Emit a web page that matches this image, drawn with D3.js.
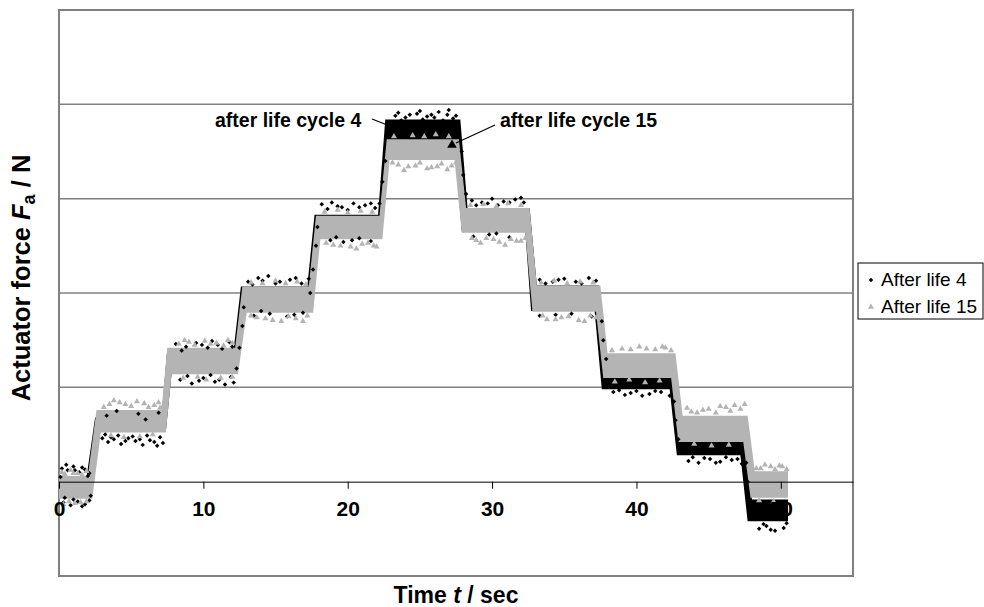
<!DOCTYPE html>
<meta charset="utf-8">
<style>
  body { margin: 0; background: #fff; }
  text { font-family: "Liberation Sans", Arial, sans-serif; }
</style>
<body>
<script src="https://d3js.org/d3.v7.min.js"></script>
<script>
// chart size
let width = 984;
let height = 607;

// x ticks (sec) and y gridlines (force)
let xTicks = [0, 10, 20, 30, 40, 50];
let yGrid = [100, 200, 300, 400];

// dense band of each run, upper and lower edge as [t, F]
let life4Upper = [[0,4],[1.9,4],[2.5,68],[7.1,68],[7.5,140],[12.1,140],[12.6,207],[17.2,207],[17.7,283],[22.1,283],[22.6,384],[27.8,384],[28.3,290],[32.6,290],[33.1,208],[37.4,208],[37.9,124],[42.6,124],[43.1,47],[47.6,47],[48.0,-19],[50.5,-19]];
let life4Lower = [[0,-16],[2.2,-16],[2.8,53],[7.4,53],[7.8,115],[12.3,115],[12.9,180],[17.5,180],[18.0,258],[22.3,258],[22.8,361],[27.4,361],[27.9,265],[32.3,265],[32.7,181],[37.1,181],[37.6,98],[42.3,98],[42.8,28],[47.2,28],[47.7,-42],[50.5,-42]];
let life15Upper = [[0,6],[2.0,6],[2.6,76],[7.1,76],[7.5,142],[12.2,142],[12.7,207],[17.3,207],[17.8,282],[22.2,282],[22.7,363],[27.7,363],[28.2,290],[32.6,290],[33.1,208],[37.5,208],[38.0,136],[42.7,136],[43.2,70],[47.7,70],[48.2,11],[50.5,11]];
let life15Lower = [[0,-18],[2.3,-18],[2.9,52],[7.4,52],[7.8,114],[12.4,114],[13.0,179],[17.6,179],[18.1,257],[22.4,257],[22.9,341],[27.4,341],[27.9,264],[32.3,264],[32.8,180],[37.2,180],[37.7,110],[42.4,110],[42.9,42],[47.4,42],[47.9,-17],[50.5,-17]];

// scattered samples around the dense band
let life4Points = [
  [0.2,14],[0.6,12],[1.0,16],[1.4,10],[1.8,13],[2.1,9],[0.1,5],[0.5,18],[1.1,12],[1.6,15],[2.0,6],
  [0.3,-22],[0.8,-25],[1.3,-21],[1.8,-24],[2.1,-20],[0.4,-17],[1.0,-19],[1.6,-26],[2.2,-15],
  [3.0,46],[3.4,42],[3.8,45],[4.3,40],[4.8,46],[5.3,43],[5.8,39],[6.3,44],[6.8,38],[7.2,41],
  [3.2,50],[3.6,47],[4.1,49],[4.6,43],[5.1,48],[5.6,45],[6.1,49],[6.6,42],[7.0,47],[4.0,75],[5.5,72],[3.3,70],[6.0,66],[6.9,73],
  [8.1,146],[8.8,143],[9.5,147],[10.3,142],[11.0,145],[11.8,148],[8.5,139],[9.9,145],[10.6,149],[11.3,141],[12.0,143],
  [8.4,108],[9.2,104],[10.0,110],[10.8,106],[11.5,103],[12.1,105],[8.9,112],[9.7,107],[10.5,113],[11.1,108],[11.9,111],
  [12.3,120],[12.5,142],[12.7,165],[12.8,185],
  [13.1,212],[13.8,216],[14.5,218],[15.3,212],[16.0,214],[16.8,210],[17.3,215],[13.4,209],[14.1,213],[15.0,210],[16.4,216],
  [13.5,176],[14.6,178],[15.8,175],[16.9,179],[14.0,181],[16.3,177],
  [17.4,200],[17.6,225],[17.8,250],[17.9,270],
  [18.2,294],[18.9,296],[19.6,291],[20.4,295],[21.2,293],[21.9,290],[18.6,289],[19.3,292],[20.0,288],[20.8,291],[21.6,295],
  [18.8,256],[19.7,254],[20.8,258],[21.6,255],[19.2,259],[20.3,256],
  [22.2,295],[22.4,318],[22.6,340],
  [23.3,388],[24.0,386],[24.8,390],[25.5,387],[26.3,392],[26.9,389],[27.3,385],[23.7,383],[25.2,384],[26.6,383],
  [23.0,380],[23.5,391],[24.3,389],[25.0,393],[25.8,389],[26.0,386],[27.0,394],[27.5,388],
  [27.9,350],[28.0,325],[28.2,305],
  [28.6,298],[29.3,296],[30.0,300],[30.8,297],[31.6,299],[32.2,296],[28.9,293],[29.7,295],[30.4,293],[31.2,296],[32.0,301],
  [28.7,260],[29.8,262],[31.2,259],[30.3,263],
  [33.3,214],[34.2,212],[35.0,215],[35.8,212],[36.7,216],[37.2,213],[33.7,210],[34.6,214],[36.2,210],
  [33.3,176],[35.5,178],[36.9,175],[34.4,177],
  [37.6,170],[37.7,150],[37.9,130],
  [38.4,95],[39.2,92],[40.0,96],[40.9,93],[41.7,95],[42.3,91],[38.8,97],[39.6,94],[40.4,91],[41.3,96],
  [42.6,85],[42.7,65],[42.9,45],
  [43.6,22],[44.3,20],[45.1,24],[45.8,21],[46.6,23],[47.3,19],[43.9,26],[44.7,25],[45.5,20],[46.2,26],[47.0,24],
  [47.6,20],[47.7,0],[47.8,-20],
  [48.5,-50],[49.0,-47],[49.6,-52],[50.2,-49],[50.4,-44],[48.8,-45],[49.3,-51]
];
let life15Points = [
  [0.4,8],[1.0,9],[1.6,7],[0.2,10],[0.8,12],[1.3,9],[1.9,11],
  [0.7,-21],[1.5,-22],[0.3,-24],[1.1,-23],[1.9,-21],
  [3.5,82],[4.2,84],[5.0,80],[5.9,83],[6.6,81],[7.0,78],[3.1,79],[3.8,86],[4.6,82],[5.4,85],[6.2,79],[6.9,84],[7.2,80],
  [3.6,49],[4.5,47],[5.6,48],[6.5,50],
  [9.0,148],[10.5,146],[11.7,150],[8.3,146],[8.7,150],[9.4,145],[10.1,149],[10.9,147],[11.4,144],[12.0,147],
  [9.6,111],[11.2,110],[8.6,110],[10.2,108],[12.0,111],
  [13.7,174],[14.8,171],[15.9,175],[16.9,170],[13.3,176],[14.3,173],[15.4,170],[16.4,173],[17.2,176],
  [13.3,211],[14.1,210],[15.0,213],[15.7,210],[16.5,212],[17.1,209],
  [19.0,251],[20.2,249],[21.0,252],[21.8,250],[18.5,253],[19.5,250],[20.6,247],[21.4,253],[22.0,249],
  [18.4,286],[19.3,288],[20.0,285],[20.9,287],[21.7,286],
  [23.5,336],[24.2,334],[25.0,338],[25.8,333],[26.5,337],[27.2,335],[23.1,338],[23.9,330],[24.7,335],[25.5,332],[26.2,334],[26.9,331],[27.5,338],
  [23.2,366],[24.5,367],[25.3,366],[26.1,368],[27.0,366],
  [28.9,256],[29.6,258],[30.5,254],[31.3,257],[32.0,255],[28.6,258],[29.2,253],[30.1,257],[30.9,251],[31.7,255],[32.3,258],
  [28.5,293],[29.4,294],[30.3,292],[31.1,295],[32.0,293],
  [33.8,172],[34.8,174],[36.0,171],[36.8,176],[33.5,176],[34.4,172],[35.3,175],[36.4,170],[37.2,174],
  [33.4,211],[34.3,213],[35.2,210],[36.1,212],[37.0,211],
  [39.0,141],[40.2,143],[41.3,140],[42.0,142],[38.3,139],[39.6,140],[40.7,141],[41.8,143],[42.4,139],
  [38.5,106],[39.5,108],[40.6,105],[41.6,107],
  [43.8,74],[44.6,76],[45.5,73],[46.2,79],[46.8,81],[47.2,77],[43.5,78],[44.2,73],[45.0,77],[45.8,80],[46.5,75],[47.5,82],
  [44.0,40],[45.2,38],[46.4,39],
  [48.6,14],[49.3,16],[49.9,17],[50.4,13],[48.3,14],[48.9,18],[49.6,13],[50.1,16],
  [48.5,-20],[49.5,-21]
];

let seriesNames = ["After life 4", "After life 15"];
let seriesColors = ["#000000", "#b4b4b4"];

let svg = d3.select("body").append("svg")
    .attr("width", width)
    .attr("height", height);

let x = d3.scaleLinear().domain([0, 55]).range([59, 853]);
let y = d3.scaleLinear().domain([-100, 500]).range([576, 10]);

// plot frame
svg.append("rect")
    .attr("x", x(0)).attr("y", y(500))
    .attr("width", x(55) - x(0)).attr("height", y(-100) - y(500))
    .attr("fill", "none").attr("stroke", "#808080").attr("stroke-width", 2);

svg.selectAll(".grid")
    .data(yGrid)
    .join("line")
    .attr("x1", x(0)).attr("x2", x(55))
    .attr("y1", d => y(d)).attr("y2", d => y(d))
    .attr("stroke", "#808080").attr("stroke-width", 1.5);

// dense bands
let line = d3.line().x(d => x(d[0])).y(d => y(d[1]));
function band(upper, lower) {
    return line(upper.concat(lower.slice().reverse())) + "Z";
}
svg.append("path").attr("d", band(life4Upper, life4Lower)).attr("fill", seriesColors[0]);
svg.append("path").attr("d", band(life15Upper, life15Lower)).attr("fill", seriesColors[1]);

// scattered samples
let dot = d3.symbol().type(d3.symbolSquare).size(10);
let tri = d3.symbol().type(d3.symbolTriangle).size(16);
svg.selectAll(".p4")
    .data(life4Points)
    .join("path")
    .attr("d", dot)
    .attr("transform", d => "translate(" + x(d[0]) + "," + y(d[1]) + ") rotate(45)")
    .attr("fill", seriesColors[0]);
svg.selectAll(".p15")
    .data(life15Points)
    .join("path")
    .attr("d", tri)
    .attr("transform", d => "translate(" + x(d[0]) + "," + y(d[1]) + ")")
    .attr("fill", seriesColors[1]);

// x axis at F = 0
let xAxis = svg.append("g")
    .attr("transform", "translate(0," + y(0) + ")")
    .call(d3.axisBottom(x).tickValues(xTicks).tickSize(7).tickSizeOuter(0).tickPadding(12));
xAxis.select(".domain").attr("stroke", "#000");
xAxis.selectAll("text")
    .attr("font-size", 21).attr("font-weight", "bold").attr("fill", "#000")
    .style("font-family", "Liberation Sans, Arial, sans-serif");

// axis titles
let xt = svg.append("text")
    .attr("x", 456).attr("y", 603)
    .attr("text-anchor", "middle")
    .attr("font-size", 23).attr("font-weight", "bold");
xt.append("tspan").text("Time ");
xt.append("tspan").attr("font-style", "italic").text("t");
xt.append("tspan").text(" / sec");

let yt = svg.append("text")
    .attr("transform", "translate(30,278) rotate(-90)")
    .attr("text-anchor", "middle")
    .attr("font-size", 25.5).attr("font-weight", "bold");
yt.append("tspan").text("Actuator force ");
yt.append("tspan").attr("font-style", "italic").text("F");
yt.append("tspan").attr("font-size", 18).attr("dy", 5).text("a");
yt.append("tspan").attr("dy", -5).text(" / N");

// annotations
svg.append("text").attr("x", 215).attr("y", 127)
    .attr("font-size", 19.5).attr("font-weight", "bold").text("after life cycle 4");
svg.append("line").attr("x1", 372).attr("y1", 119).attr("x2", 395).attr("y2", 128)
    .attr("stroke", "#000").attr("stroke-width", 1.2);
svg.append("text").attr("x", 500).attr("y", 127)
    .attr("font-size", 19.5).attr("font-weight", "bold").text("after life cycle 15");
svg.append("line").attr("x1", 495).attr("y1", 125).attr("x2", 456).attr("y2", 143)
    .attr("stroke", "#000").attr("stroke-width", 1.2);
svg.append("path")
    .attr("d", d3.symbol().type(d3.symbolTriangle).size(40))
    .attr("transform", "translate(452,145)").attr("fill", "#000");

// legend
let legend = svg.append("g");
legend.append("rect")
    .attr("x", 858).attr("y", 263).attr("width", 125).attr("height", 56)
    .attr("fill", "#fff").attr("stroke", "#000").attr("stroke-width", 1);
seriesNames.forEach(function(name, i) {
    let ly = 280 + i * 27;
    legend.append("path")
        .attr("d", i === 0 ? dot : tri)
        .attr("transform", "translate(871," + ly + ")" + (i === 0 ? " rotate(45)" : ""))
        .attr("fill", seriesColors[i]);
    legend.append("text")
        .attr("x", 881).attr("y", ly + 6)
        .attr("font-size", 19).text(name);
});
</script>
</body>
